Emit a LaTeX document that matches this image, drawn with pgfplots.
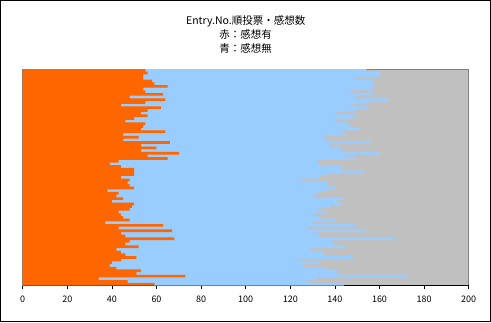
\documentclass[border=0pt]{standalone}
\usepackage{pgfplots}
\usepackage{pgfplotstable}
\usepackage{fontspec}
\setmainfont{Noto Sans CJK JP}
\pgfplotsset{compat=1.18}
\definecolor{orangebar}{HTML}{FF6600}
\definecolor{bluebar}{HTML}{99CCFF}
\definecolor{plotbg}{HTML}{C0C0C0}
\definecolor{plotborder}{HTML}{808080}
\pgfplotstableread{
y a b
1 55 99
2 56 104
3 54 106
4 54 95
5 58 99
6 59 98
7 65 92
8 54 103
9 55 92
10 63 94
11 48 101
12 64 100
13 55 100
14 44 103
15 62 93
16 56 93
17 53 87
18 56 93
19 50 97
20 46 94
21 55 91
22 54 93
23 53 98
24 64 79
25 45 100
26 52 83
27 45 92
28 66 90
29 53 85
30 60 83
31 53 89
32 70 90
33 56 89
34 65 84
35 43 89
36 39 94
37 44 99
38 50 93
39 50 103
40 50 87
41 44 89
42 48 77
43 47 90
44 48 89
45 50 90
46 38 98
47 43 89
48 42 88
49 45 99
50 40 101
51 50 93
52 49 89
53 48 84
54 43 93
55 44 86
56 45 88
57 48 92
58 37 93
59 63 86
60 43 85
61 67 87
62 44 88
63 46 87
64 68 99
65 48 91
66 46 93
67 52 93
68 42 87
69 44 91
70 46 89
71 51 97
72 44 80
73 40 93
74 39 87
75 42 94
76 53 88
77 51 90
78 73 100
79 34 98
80 47 81
81 59 85
}\votes
\begin{document}
\begin{tikzpicture}[x=1pt,y=1pt]
\draw[line width=1pt, black, fill=white] (0.5,0.5) rectangle (490.5,321.5);
\begin{axis}[
  at={(22.7pt,36.5pt)}, anchor=south west,
  scale only axis,
  width=446pt, height=216.5pt,
  xbar stacked,
  bar width=1, bar shift=0,
  y dir=reverse,
  ymin=0.5, ymax=81.5,
  xmin=0, xmax=200,
  xtick={0,20,...,200},
  axis y line=none,
  axis x line*=bottom,
  x axis line style={-, black, line width=0.8pt},
  tick align=outside,
  major tick length=3pt,
  tick style={black, line width=0.6pt},
  xtick pos=bottom,
  /pgf/number format/assume math mode=true,
  xticklabel style={font=\fontsize{9}{10}\selectfont, inner sep=0pt, yshift=-7pt},
  axis background/.style={fill=plotbg, draw=plotborder, line width=0.8pt},
  title={Entry.No.順投票・感想数\\赤：感想有\\青：感想無},
  title style={at={(0.5,1)}, anchor=south, yshift=9pt, align=center, inner sep=0pt, font=\fontsize{10.5}{14}\selectfont},
]
\addplot[fill=orangebar, draw=none] table[x=a, y=y] {\votes};
\addplot[fill=bluebar, draw=none] table[x=b, y=y] {\votes};
\end{axis}
\end{tikzpicture}
\end{document}
